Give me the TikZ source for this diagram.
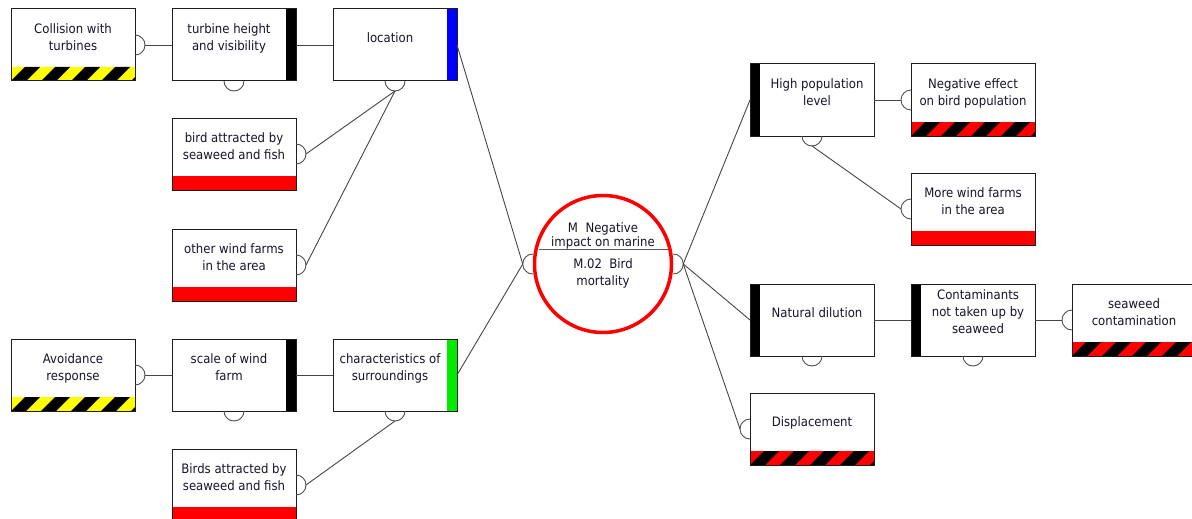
\documentclass[tikz,border=0pt]{standalone}
\usepackage{fontspec}
\setmainfont{DejaVu Sans}[FakeStretch=0.9]
\definecolor{ink}{RGB}{22,22,40}
\definecolor{boxline}{RGB}{30,30,30}
\definecolor{wire}{RGB}{70,70,70}
\definecolor{cupline}{RGB}{80,80,80}
\definecolor{divline}{RGB}{90,90,90}
\definecolor{barblue}{RGB}{0,0,255}
\definecolor{bargreen}{RGB}{0,235,0}
\definecolor{barred}{RGB}{255,0,0}
\definecolor{baryellow}{RGB}{255,255,0}
\newcommand\boxfont{\fontsize{13}{17}\selectfont}
\tikzset{
  box/.style={rectangle, minimum width=124pt, minimum height=72pt, inner sep=0pt, outer sep=0pt, fill=white},
  frame/.style={draw=boxline, line width=1pt},
  txt/.style={inner sep=0pt, align=center, text=ink, font=\boxfont,
              execute at begin node=\strut, execute at end node=\strut},
  ctxt/.style={inner sep=0pt, text=ink, font=\boxfont},
  conn/.style={draw=wire, line width=0.9pt},
  cup/.style={draw=cupline, line width=0.9pt},
}
% box with its top-left corner at (#2,#3)
\newcommand\mkbox[3]{\node[box] (#1) at (#2+62,#3+36) {};}
% coloured bars: right, left, bottom, bottom hatched
\newcommand\rbar[2]{\fill[#2] ([xshift=-10pt]#1.north east) rectangle (#1.south east);}
\newcommand\lbar[2]{\fill[#2] (#1.north west) rectangle ([xshift=10pt]#1.south west);}
\newcommand\bbar[2]{\fill[#2] ([yshift=14pt]#1.south west) rectangle (#1.south east);}
\newcommand\sbar[2]{%
  \begin{scope}
    \clip ([yshift=14pt]#1.south west) rectangle (#1.south east);
    \fill[#2] ([yshift=14pt]#1.south west) rectangle (#1.south east);
    \foreach \k in {-1,...,4}{%
      \fill[black] ([xshift=\k*30pt]#1.south west) -- ++(15,0) -- ++(14,-14) -- ++(-15,0) -- cycle;}
  \end{scope}}
\newcommand\frm[1]{\draw[frame] (#1.north west) rectangle (#1.south east);}
% half-circle sockets on the right, left and bottom sides
\newcommand\cupR[1]{\draw[cup] ([yshift=10pt]#1.east) arc[start angle=90,end angle=-90,radius=10pt];}
\newcommand\cupL[1]{\draw[cup] ([yshift=10pt]#1.west) arc[start angle=90,end angle=270,radius=10pt];}
\newcommand\cupB[1]{\draw[cup] ([xshift=-10pt]#1.south) arc[start angle=180,end angle=360,radius=10pt];}

\begin{document}
\begin{tikzpicture}[x=1pt,y=-1pt]
\useasboundingbox (0,0) rectangle (1192,519);
\clip (0,0) rectangle (1192,519);

% ---- boxes ----
\mkbox{coll}{11}{9}
\mkbox{turb}{172}{9}
\mkbox{loc}{333}{9}
\mkbox{birdA}{172}{118}
\mkbox{other}{172}{229}
\mkbox{avoid}{11}{339}
\mkbox{scale}{172}{339}
\mkbox{char}{333}{339}
\mkbox{birdB}{172}{449}
\mkbox{high}{750}{64}
\mkbox{neg}{911}{64}
\mkbox{more}{911}{173}
\mkbox{nat}{750}{284}
\mkbox{cont}{911}{284}
\mkbox{sea}{1072}{284}
\mkbox{disp}{750}{393}

\sbar{coll}{baryellow}
\rbar{turb}{black}
\rbar{loc}{barblue}
\bbar{birdA}{barred}
\bbar{other}{barred}
\sbar{avoid}{baryellow}
\rbar{scale}{black}
\rbar{char}{bargreen}
\bbar{birdB}{barred}
\lbar{high}{black}
\sbar{neg}{barred}
\bbar{more}{barred}
\lbar{nat}{black}
\lbar{cont}{black}
\sbar{sea}{barred}
\sbar{disp}{barred}

\foreach \b in {coll,turb,loc,birdA,other,avoid,scale,char,birdB,high,neg,more,nat,cont,sea,disp}{\frm{\b}}

% ---- texts ----
\node[txt] (t-coll)  at (73,39.5)   {Collision with\\turbines};
\node[txt] (t-turb)  at (229,39.5)  {turbine height\\and visibility};
\node[txt] (t-loc)   at (390,39.5)  {location};
\node[txt] (t-birdA) at (234,148.5) {bird attracted by\\seaweed and fish};
\node[txt] (t-other) at (234,259.5) {other wind farms\\in the area};
\node[txt] (t-avoid) at (73,369.5)  {Avoidance\\response};
\node[txt] (t-scale) at (229,369.5) {scale of wind\\farm};
\node[txt] (t-char)  at (390,369.5) {characteristics of\\surroundings};
\node[txt] (t-birdB) at (234,479.5) {Birds attracted by\\seaweed and fish};
\node[txt] (t-high)  at (817,94.5)  {High population\\level};
\node[txt] (t-neg)   at (973,94.5)  {Negative effect\\on bird population};
\node[txt] (t-more)  at (973,203.5) {More wind farms\\in the area};
\node[txt] (t-nat)   at (817,314.5) {Natural dilution};
\node[txt] (t-cont)  at (978,314.5) {Contaminants\\not taken up by\\seaweed};
\node[txt] (t-sea)   at (1134,314.5){seaweed\\contamination};
\node[txt] (t-disp)  at (812,423.5) {Displacement};

% ---- central event ----
\node[circle, draw=barred, line width=3.5pt, fill=white, minimum size=137pt, inner sep=0pt] (imp) at (603,264) {};
\draw[divline, line width=1pt] ([shift={(-64.5pt,15pt)}]imp.center) -- ([shift={(64.5pt,15pt)}]imp.center);
\begin{scope}
  \clip (540,212) rectangle (670,234);
  \node[ctxt, anchor=base] (t-imp1) at (603,232) {M~ Negative};
\end{scope}
\node[ctxt, anchor=base] (t-imp2) at (603,246) {impact on marine};
\node[txt] (t-imp3) at (603,275) {M.02~ Bird\\mortality};

% ---- sockets ----
\cupR{coll}  \coordinate (coll-r)  at ([xshift=10pt]coll.east);
\cupB{turb}
\cupB{loc}   \coordinate (loc-b)   at ([yshift=-10pt]loc.south);
\cupR{birdA} \coordinate (birdA-r) at ([xshift=10pt]birdA.east);
\cupR{other} \coordinate (other-r) at ([xshift=10pt]other.east);
\cupR{avoid} \coordinate (avoid-r) at ([xshift=10pt]avoid.east);
\cupB{scale}
\cupB{char}  \coordinate (char-b)  at ([yshift=-10pt]char.south);
\cupR{birdB} \coordinate (birdB-r) at ([xshift=10pt]birdB.east);
\cupL{imp}   \coordinate (imp-l)   at ([xshift=-10pt]imp.west);
\cupR{imp}   \coordinate (imp-r)   at ([xshift=10pt]imp.east);
\cupB{high}  \coordinate (high-b)  at ([yshift=-10pt]high.south);
\cupL{neg}   \coordinate (neg-l)   at ([xshift=-10pt]neg.west);
\cupL{more}  \coordinate (more-l)  at ([xshift=-10pt]more.west);
\cupB{nat}
\cupB{cont}
\cupL{sea}   \coordinate (sea-l)   at ([xshift=-10pt]sea.west);
\cupL{disp}  \coordinate (disp-l)  at ([xshift=-10pt]disp.west);

% ---- connectors ----
\draw[conn] (coll-r) -- (turb.west);
\draw[conn] (turb.east) -- (loc.west);
\draw[conn] (loc-b) -- (birdA-r);
\draw[conn] (loc-b) -- (other-r);
\draw[conn] (avoid-r) -- (scale.west);
\draw[conn] (scale.east) -- (char.west);
\draw[conn] (char-b) -- (birdB-r);
\draw[conn] (loc.east) -- (imp-l);
\draw[conn] (char.east) -- (imp-l);
\draw[conn] (imp-r) -- (high.west);
\draw[conn] (imp-r) -- (nat.west);
\draw[conn] (imp-r) -- (disp-l);
\draw[conn] (high.east) -- (neg-l);
\draw[conn] (high-b) -- (more-l);
\draw[conn] (nat.east) -- (cont.west);
\draw[conn] (cont.east) -- (sea-l);
\end{tikzpicture}
\end{document}
